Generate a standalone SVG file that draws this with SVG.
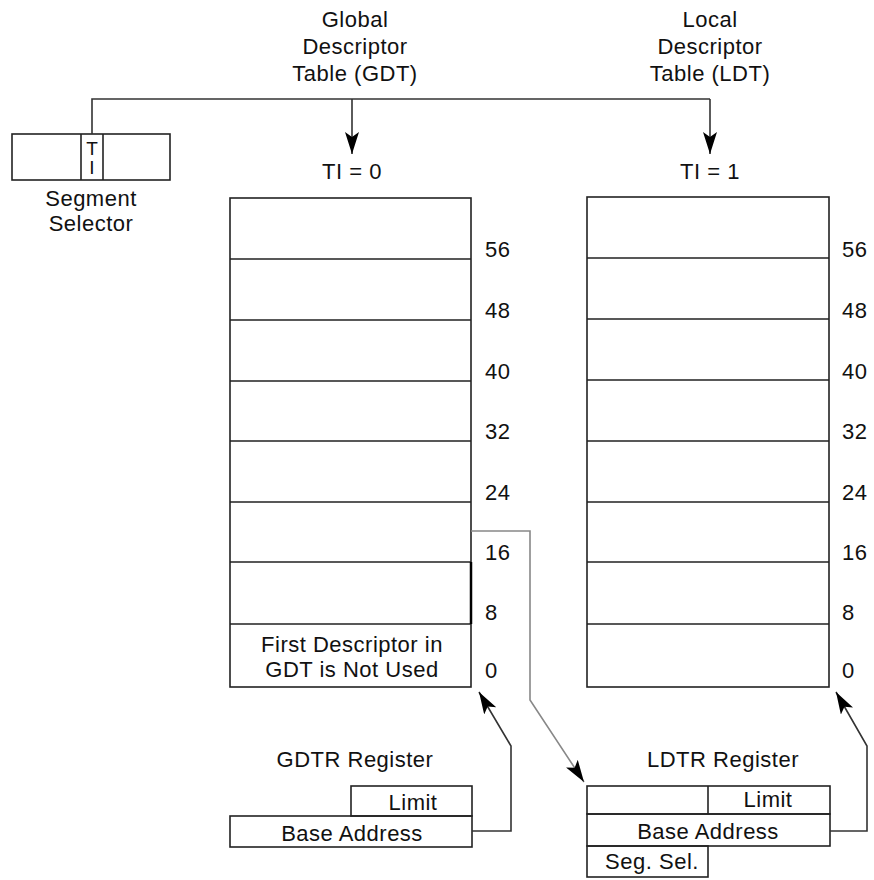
<svg xmlns="http://www.w3.org/2000/svg" width="874" height="880" viewBox="0 0 874 880">
<style>
text{font-family:"Liberation Sans",Arial,sans-serif;font-size:22px;letter-spacing:0.5px;fill:#111}
.c{text-anchor:middle}
.box{fill:none;stroke:#222;stroke-width:1.6}
.ln{fill:none;stroke:#333;stroke-width:1.6}
.gl{fill:none;stroke:#888;stroke-width:1.6}
</style>
<defs>
<marker id="ah" markerUnits="userSpaceOnUse" markerWidth="24" markerHeight="16" refX="22" refY="7" orient="auto">
<path d="M0,0 L22,7 L0,14 L5,7 Z" fill="#000"/>
</marker>
</defs>
<rect width="874" height="880" fill="#fff"/>

<g id="gdt-title">
<text class="c" x="355" y="27">Global</text>
<text class="c" x="355" y="54">Descriptor</text>
<text class="c" x="355" y="81">Table (GDT)</text>
</g>
<g id="ldt-title">
<text class="c" x="710" y="27">Local</text>
<text class="c" x="710" y="54">Descriptor</text>
<text class="c" x="710" y="81">Table (LDT)</text>
</g>

<g id="segment-selector">
<rect class="box" x="12" y="134" width="158" height="46"/>
<line class="box" x1="81" y1="134" x2="81" y2="180"/>
<line class="box" x1="103" y1="134" x2="103" y2="180"/>
<text class="c" x="92" y="155" style="font-size:19px;letter-spacing:0">T</text>
<text class="c" x="92" y="174" style="font-size:19px;letter-spacing:0">I</text>
<text class="c" x="91" y="206">Segment</text>
<text class="c" x="91" y="231">Selector</text>
</g>

<g id="gdt">
<text class="c" x="352" y="179">TI = 0</text>
<rect class="box" x="230" y="198" width="241" height="489"/>
<path class="box" d="M230 259H471M230 320H471M230 381H471M230 441H471M230 502H471M230 562H471M230 624H471"/>
<line x1="471" y1="562" x2="471" y2="624" stroke="#000" stroke-width="2.5"/>
<text x="485" y="257">56</text>
<text x="485" y="318">48</text>
<text x="485" y="379">40</text>
<text x="485" y="439">32</text>
<text x="485" y="500">24</text>
<text x="485" y="560">16</text>
<text x="485" y="620">8</text>
<text x="485" y="678">0</text>
<text class="c" x="352" y="652">First Descriptor in</text>
<text class="c" x="352" y="677">GDT is Not Used</text>
</g>

<g id="ldt">
<text class="c" x="710" y="179">TI = 1</text>
<rect class="box" x="587" y="197" width="242" height="490"/>
<path class="box" d="M587 258H829M587 319H829M587 380H829M587 441H829M587 502H829M587 562H829M587 624H829"/>
<text x="842" y="257">56</text>
<text x="842" y="318">48</text>
<text x="842" y="379">40</text>
<text x="842" y="439">32</text>
<text x="842" y="500">24</text>
<text x="842" y="560">16</text>
<text x="842" y="620">8</text>
<text x="842" y="678">0</text>
</g>

<g id="gdtr">
<text class="c" x="355" y="767">GDTR Register</text>
<rect class="box" x="351" y="786" width="121" height="30"/>
<rect class="box" x="230" y="816" width="242" height="31"/>
<text class="c" x="413" y="810">Limit</text>
<text class="c" x="352" y="841">Base Address</text>
</g>

<g id="ldtr">
<text class="c" x="723" y="767">LDTR Register</text>
<rect class="box" x="587" y="786" width="243" height="28"/>
<line class="box" x1="708" y1="786" x2="708" y2="814"/>
<rect class="box" x="587" y="814" width="243" height="32"/>
<rect class="box" x="587" y="846" width="121" height="31"/>
<text class="c" x="768" y="807">Limit</text>
<text class="c" x="708" y="839">Base Address</text>
<text class="c" x="652" y="869">Seg. Sel.</text>
</g>

<g id="connectors">
<path class="ln" d="M92 134V99H710"/>
<path class="ln" d="M352 99V154" marker-end="url(#ah)"/>
<path class="ln" d="M710 99V154" marker-end="url(#ah)"/>
<path class="gl" d="M471 531H530V700L584 782" marker-end="url(#ah)"/>
<path class="ln" d="M472 831H511V746L479 692" marker-end="url(#ah)"/>
<path class="ln" d="M830 831H867V746L836 692" marker-end="url(#ah)"/>
</g>
</svg>
